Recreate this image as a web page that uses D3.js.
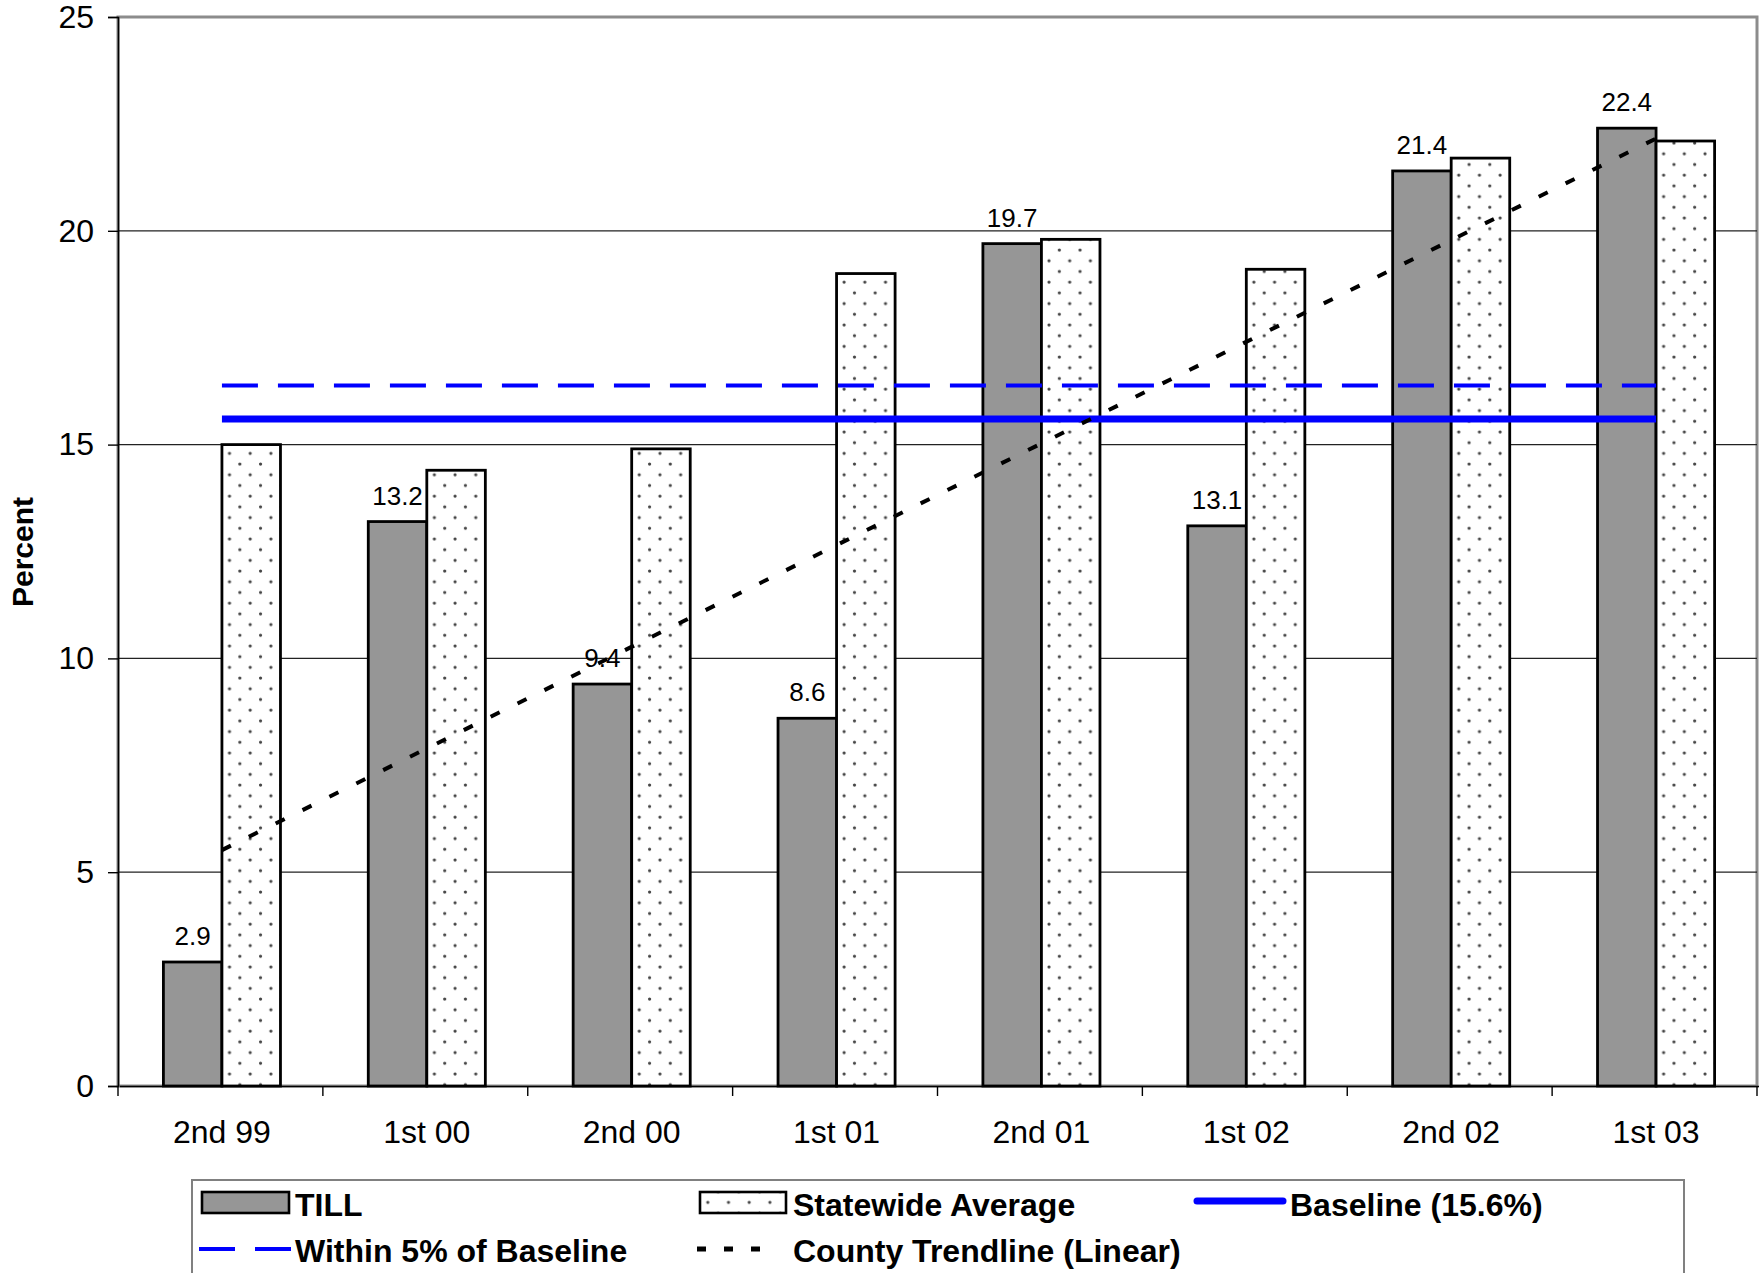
<!DOCTYPE html>
<html>
<head>
<meta charset="utf-8">
<script src="https://cdn.jsdelivr.net/npm/d3@7"></script>
<style>
  html, body { margin: 0; padding: 0; background: #fff; }
  svg { display: block; font-family: "Liberation Sans", Arial, sans-serif; }
</style>
</head>
<body>
<svg id="chart" width="1764" height="1273"></svg>
<script>
// ---- data ----
const categories = ["2nd 99", "1st 00", "2nd 00", "1st 01", "2nd 01", "1st 02", "2nd 02", "1st 03"];
const tillValues = [2.9, 13.2, 9.4, 8.6, 19.7, 13.1, 21.4, 22.4];
const statewideValues = [15.0, 14.4, 14.9, 19.0, 19.8, 19.1, 21.7, 22.1];
const baselineValue = 15.6;
const withinValue = 16.38;
const yTicks = [0, 5, 10, 15, 20, 25];
const seriesNames = ["TILL", "Statewide Average", "Baseline (15.6%)", "Within 5% of Baseline", "County Trendline (Linear)"];

// ---- layout ----
const svg = d3.select("#chart");
const plot = { left: 118, right: 1757, top: 17, bottom: 1086 };

const y = d3.scaleLinear().domain([0, 25]).range([plot.bottom, plot.top]);
const x = d3.scaleBand().domain(categories).range([plot.left + 1.5, plot.right + 1.5])
  .paddingInner(1.5 / 3.5).paddingOuter(0.75 / 3.5);
const xSub = d3.scaleBand().domain(["till", "state"]).range([0, x.bandwidth()]);
const center = c => x(c) + x.bandwidth() / 2;

// pattern for statewide bars
const defs = svg.append("defs");
const pat = defs.append("pattern").attr("id", "dots")
  .attr("patternUnits", "userSpaceOnUse")
  .attr("width", 20.7).attr("height", 21.4);
pat.append("rect").attr("width", 20.7).attr("height", 21.4).attr("fill", "#fff");
pat.append("circle").attr("cx", 4).attr("cy", 4).attr("r", 1.6).attr("fill", "#444");
pat.append("circle").attr("cx", 14.35).attr("cy", 14.7).attr("r", 1.6).attr("fill", "#444");

// plot border
svg.append("rect")
  .attr("x", plot.left).attr("y", plot.top)
  .attr("width", plot.right - plot.left).attr("height", plot.bottom - plot.top)
  .attr("fill", "none").attr("stroke", "#8c8c8c").attr("stroke-width", 3);

// gridlines
svg.append("g").selectAll("line").data(yTicks.filter(t => t > 0 && t < 25)).join("line")
  .attr("x1", plot.left).attr("x2", plot.right)
  .attr("y1", d => y(d)).attr("y2", d => y(d))
  .attr("stroke", "#222").attr("stroke-width", 1.2);

// bars
const groups = svg.append("g").selectAll("g").data(categories).join("g")
  .attr("transform", c => `translate(${x(c)},0)`);
groups.append("rect")
  .attr("x", xSub("till")).attr("width", xSub.bandwidth())
  .attr("y", (c, i) => y(tillValues[i]))
  .attr("height", (c, i) => y(0) - y(tillValues[i]))
  .attr("fill", "#969696").attr("stroke", "#000").attr("stroke-width", 2.8);
groups.append("rect")
  .attr("x", xSub("state")).attr("width", xSub.bandwidth())
  .attr("y", (c, i) => y(statewideValues[i]))
  .attr("height", (c, i) => y(0) - y(statewideValues[i]))
  .attr("fill", "url(#dots)").attr("stroke", "#000").attr("stroke-width", 2.8);

// data labels for TILL
groups.append("text")
  .attr("x", xSub("till") + xSub.bandwidth() / 2)
  .attr("y", (c, i) => y(tillValues[i]) - 17)
  .attr("text-anchor", "middle")
  .attr("font-size", 26)
  .text((c, i) => tillValues[i].toFixed(1));

// baseline & within-5% lines
const first = categories[0], last = categories[categories.length - 1];
svg.append("line")
  .attr("x1", center(first)).attr("x2", center(last))
  .attr("y1", y(withinValue)).attr("y2", y(withinValue))
  .attr("stroke", "#0000ff").attr("stroke-width", 4)
  .attr("stroke-dasharray", "36 20");
svg.append("line")
  .attr("x1", center(first)).attr("x2", center(last))
  .attr("y1", y(baselineValue)).attr("y2", y(baselineValue))
  .attr("stroke", "#0000ff").attr("stroke-width", 7);

// linear trendline (least squares over TILL)
const n = tillValues.length;
const xs = d3.range(1, n + 1);
const mx = d3.mean(xs), my = d3.mean(tillValues);
const slope = d3.sum(xs, (v, i) => (v - mx) * (tillValues[i] - my)) / d3.sum(xs, v => (v - mx) ** 2);
const intercept = my - slope * mx;
svg.append("line")
  .attr("x1", center(first)).attr("x2", center(last))
  .attr("y1", y(intercept + slope * 1)).attr("y2", y(intercept + slope * n))
  .attr("stroke", "#000").attr("stroke-width", 4)
  .attr("stroke-dasharray", "10 20");

// axes
const yAxis = d3.axisLeft(y).tickValues(yTicks).tickSize(10).tickPadding(14).tickFormat(d3.format("d"));
const gy = svg.append("g").attr("transform", `translate(${plot.left},0)`).call(yAxis);
gy.select(".domain").attr("stroke", "#000").attr("stroke-width", 1.6);
gy.selectAll(".tick line").attr("stroke", "#000").attr("stroke-width", 1.4);
gy.selectAll(".tick text").attr("font-size", 32).attr("fill", "#000")
  .attr("font-family", "Liberation Sans, Arial, sans-serif");

const xAxis = d3.axisBottom(x).tickSize(0).tickPadding(34);
const gx = svg.append("g").attr("transform", `translate(0,${plot.bottom})`).call(xAxis);
gx.select(".domain").attr("stroke", "#000").attr("stroke-width", 1.6);
gx.selectAll(".tick text").attr("font-size", 32).attr("fill", "#000")
  .attr("font-family", "Liberation Sans, Arial, sans-serif");
// category boundary ticks
const bounds = d3.range(categories.length + 1).map(i => plot.left + i * (plot.right - plot.left) / categories.length);
svg.append("g").selectAll("line").data(bounds).join("line")
  .attr("x1", d => d).attr("x2", d => d).attr("y1", plot.bottom).attr("y2", plot.bottom + 10)
  .attr("stroke", "#000").attr("stroke-width", 1.4);

// y axis title
svg.append("text")
  .attr("transform", `translate(33,552) rotate(-90)`)
  .attr("text-anchor", "middle")
  .attr("font-size", 30).attr("font-weight", "bold")
  .text("Percent");

// legend
const lg = svg.append("g").attr("font-size", 32).attr("font-weight", "bold");
lg.append("rect").attr("x", 192).attr("y", 1180).attr("width", 1492).attr("height", 110)
  .attr("fill", "#fff").attr("stroke", "#808080").attr("stroke-width", 2);

lg.append("rect").attr("x", 202).attr("y", 1192).attr("width", 87).attr("height", 21)
  .attr("fill", "#969696").attr("stroke", "#000").attr("stroke-width", 2.6);
lg.append("text").attr("x", 295).attr("y", 1216).text(seriesNames[0]);

lg.append("rect").attr("x", 700).attr("y", 1192).attr("width", 86).attr("height", 21)
  .attr("fill", "url(#dots)").attr("stroke", "#000").attr("stroke-width", 2.6);
lg.append("text").attr("x", 793).attr("y", 1216).text(seriesNames[1]);

lg.append("line").attr("x1", 1197).attr("x2", 1283).attr("y1", 1201).attr("y2", 1201)
  .attr("stroke", "#0000ff").attr("stroke-width", 7).attr("stroke-linecap", "round");
lg.append("text").attr("x", 1290).attr("y", 1216).text(seriesNames[2]);

lg.append("line").attr("x1", 199).attr("x2", 291).attr("y1", 1249).attr("y2", 1249)
  .attr("stroke", "#0000ff").attr("stroke-width", 4).attr("stroke-dasharray", "36 20");
lg.append("text").attr("x", 295).attr("y", 1262).text(seriesNames[3]);

lg.append("line").attr("x1", 697).attr("x2", 760).attr("y1", 1249).attr("y2", 1249)
  .attr("stroke", "#000").attr("stroke-width", 5).attr("stroke-dasharray", "9 18");
lg.append("text").attr("x", 793).attr("y", 1262).text(seriesNames[4]);
</script>
</body>
</html>
